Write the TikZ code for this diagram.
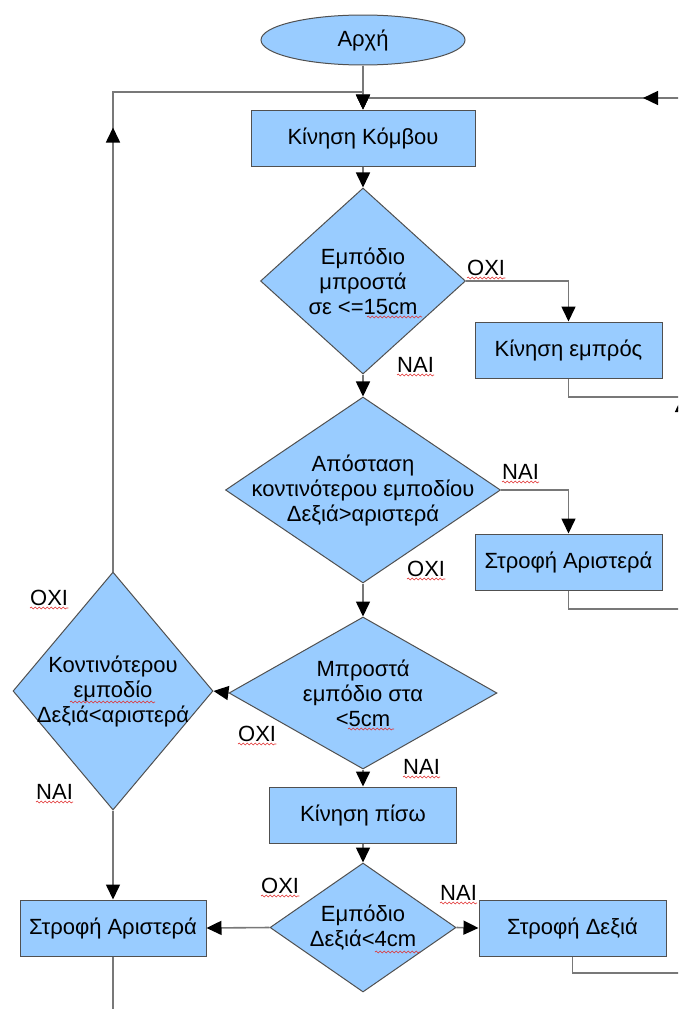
\documentclass[tikz,border=0pt]{standalone}
\usepackage{fontspec}
\setmainfont{Liberation Sans}
\usetikzlibrary{shapes.geometric,arrows.meta,decorations.pathmorphing,decorations.markings}

\definecolor{boxfill}{HTML}{99CCFF}
\definecolor{boxline}{HTML}{505050}
\definecolor{wire}{HTML}{787878}
\definecolor{spell}{HTML}{E03030}

\begin{document}
\begin{tikzpicture}[x=1pt,y=-1pt,
  font=\fontsize{22}{25}\selectfont,
  tip/.tip={Triangle[length=15pt,width=14pt,color=black]},
  base/.style={fill=boxfill,draw=boxline,line width=1pt,inner sep=0pt},
  proc/.style={base,rectangle,minimum width=#1,minimum height=56},
  startnode/.style={base,ellipse,minimum width=204,minimum height=50},
  dec/.style n args={3}{base,diamond,minimum width=#1,minimum height=#2,
    label={[align=center,inner sep=0pt]center:#3}},
  conn/.style={draw=wire,line width=1.6pt,-tip},
  wireline/.style={draw=wire,line width=1.6pt},
  midtip/.style={postaction={decorate},decoration={markings,
    mark=at position #1 with {\arrow{tip}}}},
  yn/.style={anchor=base west,inner sep=0pt},
  squig/.style={draw=spell,line width=0.6pt,decorate,
    decoration={snake,amplitude=0.9pt,segment length=4pt}}
]
\useasboundingbox (0,0) rectangle (678,1009);
\clip (0,0) rectangle (678,1009);

% ---- shapes ----
\node[startnode] (start) at (363,40) {Αρχή};
\node[proc=224] (move) at (363,138) {Κίνηση Κόμβου};
\node[dec={205}{186}{Εμπόδιο\\μπροστά\\σε <=15cm}] (d1) at (363,281) {};
\node[proc=187] (fwd) at (568.5,350) {Κίνηση εμπρός};
\node[dec={275}{186}{Απόσταση\\κοντινότερου εμποδίου\\Δεξιά>αριστερά}] (d2) at (363,490) {};
\node[proc=187] (left1) at (568.5,562) {Στροφή Αριστερά};
\node[dec={268}{152}{Μπροστά\\εμπόδιο στα\\<5cm}] (d3) at (363,693) {};
\node[dec={200}{238}{Κοντινότερου\\εμποδίο\\Δεξιά<αριστερά}] (d4) at (113,691) {};
\node[proc=187] (back) at (363,815) {Κίνηση πίσω};
\node[dec={186}{129}{Εμπόδιο\\Δεξιά<4cm}] (d5) at (363,927.5) {};
\node[proc=186] (left2) at (113,928) {Στροφή Αριστερά};
\node[proc=187] (right) at (572.5,928) {Στροφή Δεξιά};

% ---- loose ends leaving the sheet ----
\coordinate (rin) at (700,98);
\coordinate (j1) at (682,397);
\coordinate (e2) at (682,609);
\coordinate (e3) at (700,973);
\coordinate (e4) at (113,1020);
\coordinate (lc) at (113,92);

% ---- connectors ----
\draw[conn] (start) -- (move);
\draw[conn,midtip=444pt] (d4.north) -- (lc) -| (move.north);
\draw[conn,midtip=57pt] (rin) |- (363,98) -- (move.north);
\draw[conn] (move) -- (d1);
\draw[conn] (d1.east) -| (fwd.north);
\draw[conn] (d1) -- (d2);
\draw[conn] (d2.east) -| (left1.north);
\draw[conn] (d2) -- (d3);
\draw[conn] (d3.west) -- (d4.east);
\draw[conn] (d3) -- (back);
\draw[conn] (back) -- (d5);
\draw[conn] (d5.west) -- (left2.east);
\draw[conn] (d5.east) -- (right.west);
\draw[conn] (d4.south) -- (left2.north);
\draw[wireline] (fwd.south) |- (j1);
\draw[conn] (left1.south) |- (e2) -- (j1);
\draw[wireline] (right.south) |- (e3);
\draw[wireline] (left2.south) -- (e4);

% ---- branch labels ----
\node[yn] (y1) at (467,275) {ΟΧΙ};
\node[yn] (y2) at (397,372) {ΝΑΙ};
\node[yn] (y3) at (502,479) {ΝΑΙ};
\node[yn] (y4) at (407,576) {ΟΧΙ};
\node[yn] (y5) at (30,605) {ΟΧΙ};
\node[yn] (y6) at (238,741) {ΟΧΙ};
\node[yn] (y7) at (403,774) {ΝΑΙ};
\node[yn] (y8) at (36,799) {ΝΑΙ};
\node[yn] (y9) at (261,893) {ΟΧΙ};
\node[yn] (y10) at (440,900) {ΝΑΙ};

% ---- spell-check underlines ----
\foreach \n in {y1,y2,y3,y4,y5,y6,y7,y8,y9,y10}
  \draw[squig] ([yshift=-3pt]\n.base west) -- ([yshift=-3pt]\n.base east);
\draw[squig] (367,317) -- (422,317);
\draw[squig] (348,729) -- (394,729);
\draw[squig] (70,702) -- (155,702);
\draw[squig] (375,952) -- (420,952);
\end{tikzpicture}
\end{document}
